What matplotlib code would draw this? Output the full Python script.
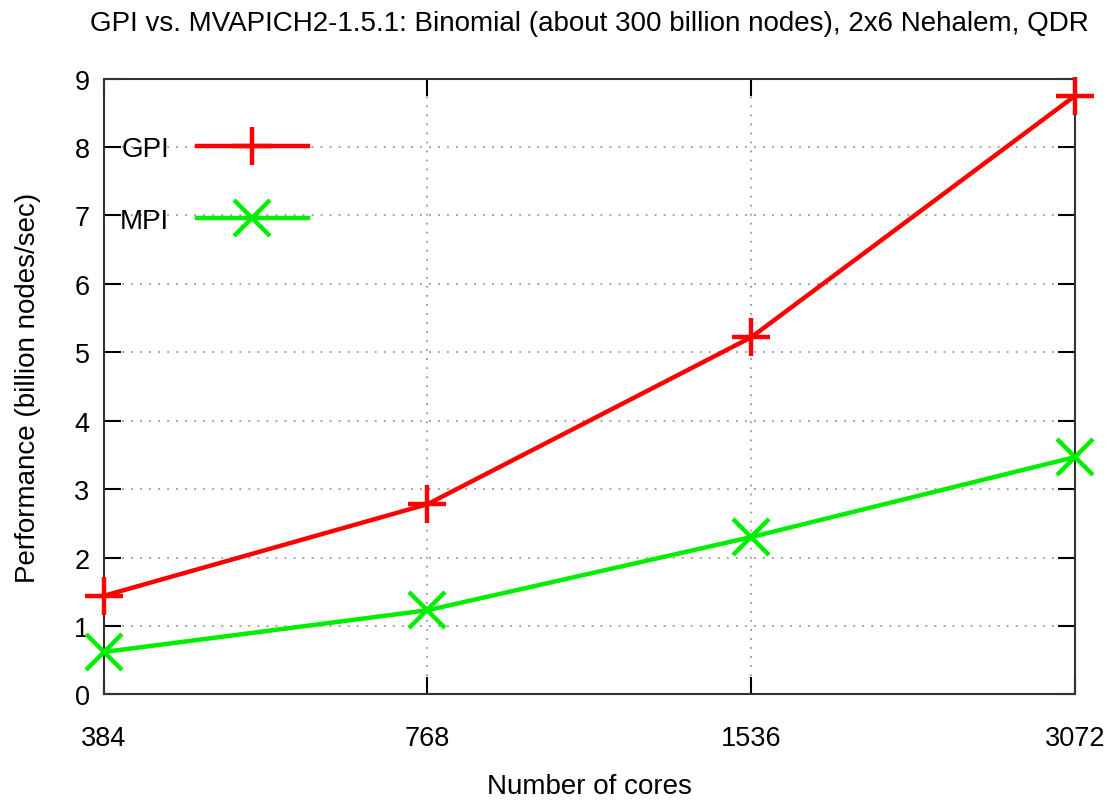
import matplotlib
matplotlib.use("Agg")
import matplotlib.pyplot as plt
from matplotlib.ticker import FixedLocator, FixedFormatter, NullLocator

cores = [384, 768, 1536, 3072]
gpi = [1.44, 2.78, 5.22, 8.75]
mpi = [0.62, 1.23, 2.30, 3.47]
yticks = list(range(0, 10))

plt.rcParams['font.family'] = ['Liberation Sans', 'DejaVu Sans']

fig = plt.figure(figsize=(11.13, 8.04), dpi=100)
ax = fig.add_axes([0.093, 0.135, 0.873, 0.766])

ax.plot(cores, gpi, color='#ff0000', lw=3.2, marker='+', markersize=27, mew=3.2, label='GPI', clip_on=False, zorder=5)
ax.plot(cores, mpi, color='#00ee00', lw=3.2, marker='x', markersize=26, mew=3.2, label='MPI', clip_on=False, zorder=5)

ax.set_xscale('log', base=2)
ax.set_xlim(384, 3072)
ax.set_ylim(0, 9)
ax.xaxis.set_major_locator(FixedLocator(cores))
ax.xaxis.set_major_formatter(FixedFormatter([str(c) for c in cores]))
ax.xaxis.set_minor_locator(NullLocator())
ax.set_yticks(yticks)

ax.tick_params(direction='in', length=12, width=1.5, labelsize=19.5, top=True, right=True, pad=10)
ax.tick_params(axis='x', pad=22)
for s in ax.spines.values():
    s.set_linewidth(1.5)
    s.set_color('#333333')

ax.grid(True, color='#999999', linestyle=(0, (1, 4)), linewidth=1.3)

ax.set_xlabel('Number of cores', fontsize=20, labelpad=16)
ax.set_ylabel('Performance (billion nodes/sec)', fontsize=20, labelpad=24)
ax.set_title('GPI vs. MVAPICH2-1.5.1: Binomial (about 300 billion nodes), 2x6 Nehalem, QDR', fontsize=20, pad=35)

leg = ax.legend(loc='upper left', bbox_to_anchor=(0.017, 0.907), markerfirst=False, frameon=False,
                fontsize=20, handlelength=4.0, handletextpad=1.0, labelspacing=1.66,
                borderaxespad=0.0, borderpad=0.0)

fig.savefig('out.png', dpi=100)
